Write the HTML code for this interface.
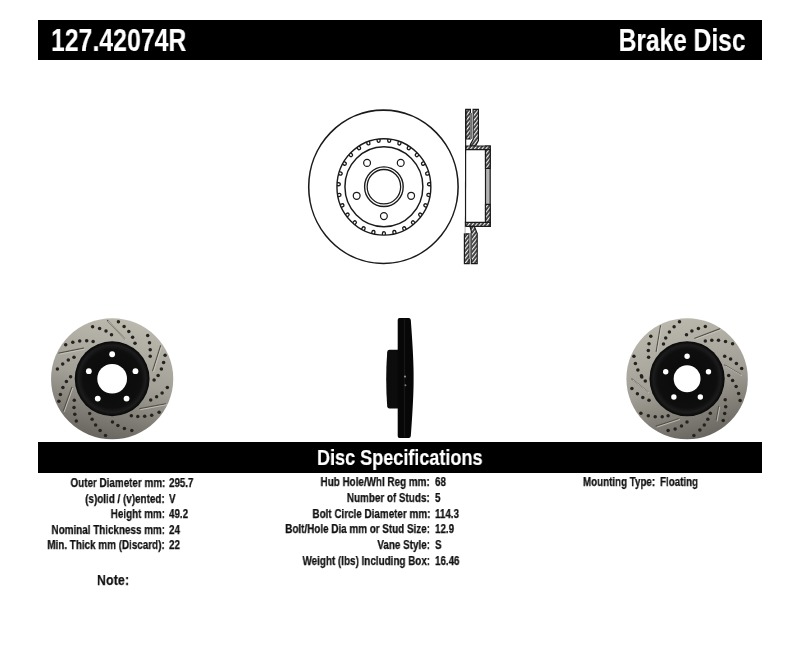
<!DOCTYPE html>
<html><head><meta charset="utf-8"><style>
html,body{margin:0;padding:0;background:#fff;width:800px;height:655px;overflow:hidden;}
body{position:relative;font-family:"Liberation Sans",sans-serif;font-weight:bold;color:#111;}
.bar{position:absolute;background:#000;}
.t{position:absolute;white-space:nowrap;line-height:1;will-change:transform;}
.w{color:#fff;}
.lab{text-align:right;transform-origin:100% 50%;}
.val{transform-origin:0 50%;}
.s{-webkit-text-stroke:0.25px #111;}
.sw{-webkit-text-stroke:0.2px #fff;}
svg{position:absolute;left:0;top:0;}
</style></head><body>
<div class="bar" style="left:38px;top:20px;width:724px;height:40px"></div>
<div class="bar" style="left:38px;top:442px;width:724px;height:31px"></div>
<div class="t w val sw" style="left:50.5px;top:24.0px;font-size:32px;transform:scaleX(0.776)">127.42074R</div>
<div class="t w lab sw" style="right:54.6px;top:24.0px;font-size:32px;transform:scaleX(0.766)">Brake Disc</div>
<div class="t w val sw" style="left:316.6px;top:447px;font-size:22.5px;transform:scaleX(0.8025)">Disc Specifications</div>
<svg width="800" height="655" viewBox="0 0 800 655">
<g transform="translate(383.9,0) scale(0.974,1) translate(-383.9,0)">
<ellipse cx="383.4" cy="186.79999999999998" rx="76.7" ry="76.7" fill="none" stroke="#1a1a1a" stroke-width="1.6"/>
<circle cx="383.9" cy="186.89999999999998" r="48.2" fill="none" stroke="#1a1a1a" stroke-width="1.45"/>
<circle cx="383.9" cy="186.7" r="40" fill="none" stroke="#1a1a1a" stroke-width="1.5"/>
<circle cx="383.9" cy="186.7" r="19.8" fill="none" stroke="#1a1a1a" stroke-width="1.4"/>
<circle cx="383.9" cy="186.7" r="17.2" fill="none" stroke="#1a1a1a" stroke-width="1.3"/>
<circle cx="383.90" cy="216.10" r="3.5" fill="none" stroke="#1a1a1a" stroke-width="1.25"/>
<circle cx="355.94" cy="195.79" r="3.5" fill="none" stroke="#1a1a1a" stroke-width="1.25"/>
<circle cx="366.62" cy="162.91" r="3.5" fill="none" stroke="#1a1a1a" stroke-width="1.25"/>
<circle cx="401.18" cy="162.91" r="3.5" fill="none" stroke="#1a1a1a" stroke-width="1.25"/>
<circle cx="411.86" cy="195.79" r="3.5" fill="none" stroke="#1a1a1a" stroke-width="1.25"/>
<path d="M382.40,235.10L382.40,233.20A1.5,1.5 0 0 1 385.40,233.20L385.40,235.10M371.32,233.45L371.76,231.61A1.5,1.5 0 0 1 374.68,232.30L374.24,234.15M360.93,229.30L361.78,227.60A1.5,1.5 0 0 1 364.46,228.95L363.61,230.65M351.77,222.86L352.99,221.40A1.5,1.5 0 0 1 355.29,223.33L354.07,224.79M344.34,214.48L345.87,213.35A1.5,1.5 0 0 1 347.66,215.75L346.13,216.89M339.05,204.61L340.79,203.86A1.5,1.5 0 0 1 341.98,206.62L340.24,207.37M336.17,193.79L338.04,193.46A1.5,1.5 0 0 1 338.56,196.42L336.69,196.75M335.87,182.60L337.77,182.71A1.5,1.5 0 0 1 337.59,185.71L335.69,185.59M338.16,171.64L339.98,172.18A1.5,1.5 0 0 1 339.11,175.06L337.29,174.51M342.91,161.50L344.55,162.45A1.5,1.5 0 0 1 343.05,165.05L341.41,164.10M349.87,152.73L351.25,154.04A1.5,1.5 0 0 1 349.19,156.22L347.81,154.91M358.67,145.81L359.71,147.39A1.5,1.5 0 0 1 357.20,149.04L356.16,147.45M368.82,141.09L369.47,142.88A1.5,1.5 0 0 1 366.65,143.91L366.01,142.12M379.79,138.85L380.01,140.74A1.5,1.5 0 0 1 377.04,141.09L376.81,139.20M390.99,139.20L390.76,141.09A1.5,1.5 0 0 1 387.79,140.74L388.01,138.85M401.79,142.12L401.15,143.91A1.5,1.5 0 0 1 398.33,142.88L398.98,141.09M411.64,147.45L410.60,149.04A1.5,1.5 0 0 1 408.09,147.39L409.13,145.81M419.99,154.91L418.61,156.22A1.5,1.5 0 0 1 416.55,154.04L417.93,152.73M426.39,164.10L424.75,165.05A1.5,1.5 0 0 1 423.25,162.45L424.89,161.50M430.51,174.51L428.69,175.06A1.5,1.5 0 0 1 427.82,172.18L429.64,171.64M432.11,185.59L430.21,185.71A1.5,1.5 0 0 1 430.03,182.71L431.93,182.60M431.11,196.75L429.24,196.42A1.5,1.5 0 0 1 429.76,193.46L431.63,193.79M427.56,207.37L425.82,206.62A1.5,1.5 0 0 1 427.01,203.86L428.75,204.61M421.67,216.89L420.14,215.75A1.5,1.5 0 0 1 421.93,213.35L423.46,214.48M413.73,224.79L412.51,223.33A1.5,1.5 0 0 1 414.81,221.40L416.03,222.86M404.19,230.65L403.34,228.95A1.5,1.5 0 0 1 406.02,227.60L406.87,229.30M393.56,234.15L393.12,232.30A1.5,1.5 0 0 1 396.04,231.61L396.48,233.45" fill="none" stroke="#1a1a1a" stroke-width="1.35"/>
</g>

<defs><pattern id="hatch" patternUnits="userSpaceOnUse" width="3" height="3" patternTransform="rotate(-52)">
<rect width="3" height="3" fill="#3a3a3a"/><rect y="0" width="3" height="1.15" fill="#f2f2f2"/></pattern></defs>
<g stroke="#1a1a1a" stroke-width="1.2" stroke-linejoin="miter">
<path d="M465.8,109.4 H470.4 V139 H465.8 Z" fill="url(#hatch)"/>
<path d="M473.1,109.4 H478.4 V140.7 L475.5,146 H470.4 V144.5 L473.1,139.5 Z" fill="url(#hatch)"/>
<path d="M485.5,146 H490.2 V226.3 H485.5 Z" fill="#b4b4b4"/>
<path d="M465.6,146 H490.2 V149.7 H465.6 Z" fill="url(#hatch)"/>
<path d="M485.5,149.7 H490.2 V168.4 H485.5 Z" fill="url(#hatch)"/>
<path d="M485.5,204.3 H490.2 V222.4 H485.5 Z" fill="url(#hatch)"/>
<path d="M465.4,222.4 H490.2 V226.3 H465.4 Z" fill="url(#hatch)"/>
<path d="M464.4,233.9 H469.2 V263.7 H464.4 Z" fill="url(#hatch)"/>
<path d="M470,226.3 L471.3,231 V263.7 H477.2 V233.5 L474.3,226.3 Z" fill="url(#hatch)"/>
<line x1="465.7" y1="109.4" x2="465.5" y2="222.4"/>
</g>
<line x1="465.2" y1="226.3" x2="465" y2="233.9" stroke="#999" stroke-width="0.8"/>
<rect x="470.4" y="113" width="2.7" height="26" fill="#bdbdbd"/><rect x="471.1" y="113" width="1.2" height="26" fill="#6a6a6a"/>
<rect x="469.2" y="233" width="2.1" height="26" fill="#bdbdbd"/><rect x="469.7" y="233" width="1.1" height="26" fill="#6a6a6a"/>

<defs><linearGradient id="gL" x1="0.62" y1="0.02" x2="0.4" y2="1"><stop offset="0" stop-color="#bbb8ae"/><stop offset="0.5" stop-color="#a3a097"/><stop offset="1" stop-color="#68655f"/></linearGradient><radialGradient id="hL" cx="0.5" cy="0.5" r="0.5"><stop offset="0" stop-color="#0a0a0a"/><stop offset="0.78" stop-color="#0e0e0e"/><stop offset="0.9" stop-color="#1c1c1c"/><stop offset="1" stop-color="#060606"/></radialGradient></defs>
<ellipse cx="112.15" cy="378.75" rx="61.1" ry="60.5" fill="url(#gL)"/>
<line x1="58.9" y1="353.2" x2="83.7" y2="348.2" stroke="#55524b" stroke-width="1.2" stroke-linecap="round"/>
<line x1="59.8" y1="354.09999999999997" x2="84.60000000000001" y2="349.09999999999997" stroke="#cfccc3" stroke-width="0.8" stroke-linecap="round"/>
<line x1="107.5" y1="320.5" x2="124.9" y2="338.8" stroke="#55524b" stroke-width="1.2" stroke-linecap="round"/>
<line x1="108.4" y1="321.4" x2="125.80000000000001" y2="339.7" stroke="#cfccc3" stroke-width="0.8" stroke-linecap="round"/>
<line x1="160.6" y1="345.8" x2="152.7" y2="370.6" stroke="#55524b" stroke-width="1.2" stroke-linecap="round"/>
<line x1="161.5" y1="346.7" x2="153.6" y2="371.5" stroke="#cfccc3" stroke-width="0.8" stroke-linecap="round"/>
<line x1="71.8" y1="387.4" x2="63.4" y2="410.7" stroke="#55524b" stroke-width="1.2" stroke-linecap="round"/>
<line x1="72.7" y1="388.29999999999995" x2="64.3" y2="411.59999999999997" stroke="#cfccc3" stroke-width="0.8" stroke-linecap="round"/>
<line x1="139.8" y1="408.7" x2="165.6" y2="403.8" stroke="#55524b" stroke-width="1.2" stroke-linecap="round"/>
<line x1="140.70000000000002" y1="409.59999999999997" x2="166.5" y2="404.7" stroke="#cfccc3" stroke-width="0.8" stroke-linecap="round"/>
<circle cx="92.6" cy="326.7" r="1.75" fill="#24221e"/>
<circle cx="99.6" cy="328.4" r="1.75" fill="#24221e"/>
<circle cx="106" cy="330.9" r="1.75" fill="#24221e"/>
<circle cx="111.5" cy="334.8" r="1.75" fill="#24221e"/>
<circle cx="65.7" cy="344.8" r="1.75" fill="#24221e"/>
<circle cx="72.8" cy="342.3" r="1.75" fill="#24221e"/>
<circle cx="79.7" cy="341" r="1.75" fill="#24221e"/>
<circle cx="86.7" cy="340.8" r="1.75" fill="#24221e"/>
<circle cx="93.1" cy="341.6" r="1.75" fill="#24221e"/>
<circle cx="74" cy="357.2" r="1.75" fill="#24221e"/>
<circle cx="68.3" cy="360.1" r="1.75" fill="#24221e"/>
<circle cx="62.7" cy="364.1" r="1.75" fill="#24221e"/>
<circle cx="57.4" cy="369.1" r="1.75" fill="#24221e"/>
<circle cx="118.4" cy="321.7" r="1.75" fill="#24221e"/>
<circle cx="124.1" cy="326.4" r="1.75" fill="#24221e"/>
<circle cx="128.8" cy="331.4" r="1.75" fill="#24221e"/>
<circle cx="132.6" cy="337.3" r="1.75" fill="#24221e"/>
<circle cx="135" cy="343.3" r="1.75" fill="#24221e"/>
<circle cx="147.7" cy="335.6" r="1.75" fill="#24221e"/>
<circle cx="149.5" cy="342.8" r="1.75" fill="#24221e"/>
<circle cx="150.2" cy="349.7" r="1.75" fill="#24221e"/>
<circle cx="150.2" cy="356.2" r="1.75" fill="#24221e"/>
<circle cx="165.1" cy="355.2" r="1.75" fill="#24221e"/>
<circle cx="163.6" cy="362.4" r="1.75" fill="#24221e"/>
<circle cx="161.4" cy="369.1" r="1.75" fill="#24221e"/>
<circle cx="158.1" cy="375.5" r="1.75" fill="#24221e"/>
<circle cx="154.1" cy="380" r="1.75" fill="#24221e"/>
<circle cx="70.6" cy="376.8" r="1.75" fill="#24221e"/>
<circle cx="66.4" cy="381.5" r="1.75" fill="#24221e"/>
<circle cx="62.9" cy="387.4" r="1.75" fill="#24221e"/>
<circle cx="60.4" cy="394.4" r="1.75" fill="#24221e"/>
<circle cx="58.9" cy="401.3" r="1.75" fill="#24221e"/>
<circle cx="74.3" cy="400.3" r="1.75" fill="#24221e"/>
<circle cx="74" cy="407.5" r="1.75" fill="#24221e"/>
<circle cx="74.8" cy="414.2" r="1.75" fill="#24221e"/>
<circle cx="76.3" cy="421.1" r="1.75" fill="#24221e"/>
<circle cx="89.7" cy="413.5" r="1.75" fill="#24221e"/>
<circle cx="92.1" cy="419.2" r="1.75" fill="#24221e"/>
<circle cx="95.6" cy="425.1" r="1.75" fill="#24221e"/>
<circle cx="100.1" cy="430.4" r="1.75" fill="#24221e"/>
<circle cx="105.5" cy="435.5" r="1.75" fill="#24221e"/>
<circle cx="167.3" cy="387.4" r="1.75" fill="#24221e"/>
<circle cx="162.1" cy="392.9" r="1.75" fill="#24221e"/>
<circle cx="156.6" cy="396.8" r="1.75" fill="#24221e"/>
<circle cx="150.7" cy="400.1" r="1.75" fill="#24221e"/>
<circle cx="159.1" cy="412.2" r="1.75" fill="#24221e"/>
<circle cx="151.7" cy="415.2" r="1.75" fill="#24221e"/>
<circle cx="144.7" cy="416.2" r="1.75" fill="#24221e"/>
<circle cx="137.8" cy="416.5" r="1.75" fill="#24221e"/>
<circle cx="131.3" cy="415.7" r="1.75" fill="#24221e"/>
<circle cx="112.5" cy="422.1" r="1.75" fill="#24221e"/>
<circle cx="117.9" cy="425.6" r="1.75" fill="#24221e"/>
<circle cx="124.4" cy="428.4" r="1.75" fill="#24221e"/>
<circle cx="131.8" cy="430.6" r="1.75" fill="#24221e"/>
<circle cx="112.15" cy="378.75" r="37.4" fill="url(#hL)"/>
<circle cx="112.15" cy="378.75" r="14.85" fill="#fff"/>
<circle cx="112.15" cy="354.25" r="2.9" fill="#fff"/>
<circle cx="135.45" cy="371.18" r="2.9" fill="#fff"/>
<circle cx="126.55" cy="398.57" r="2.9" fill="#fff"/>
<circle cx="97.75" cy="398.57" r="2.9" fill="#fff"/>
<circle cx="88.85" cy="371.18" r="2.9" fill="#fff"/>
<defs><linearGradient id="gR" x1="0.35" y1="0.02" x2="0.62" y2="1"><stop offset="0" stop-color="#bbb8ae"/><stop offset="0.5" stop-color="#a3a097"/><stop offset="1" stop-color="#68655f"/></linearGradient><radialGradient id="hR" cx="0.5" cy="0.5" r="0.5"><stop offset="0" stop-color="#0a0a0a"/><stop offset="0.78" stop-color="#0e0e0e"/><stop offset="0.9" stop-color="#1c1c1c"/><stop offset="1" stop-color="#060606"/></radialGradient></defs>
<ellipse cx="687.1" cy="378.75" rx="60.7" ry="60.5" fill="url(#gR)"/>
<line x1="660.5" y1="325.9" x2="656.2" y2="351.7" stroke="#55524b" stroke-width="1.2" stroke-linecap="round"/>
<line x1="661.4" y1="326.79999999999995" x2="657.1" y2="352.59999999999997" stroke="#cfccc3" stroke-width="0.8" stroke-linecap="round"/>
<line x1="694.9" y1="338.3" x2="719.7" y2="328.9" stroke="#55524b" stroke-width="1.2" stroke-linecap="round"/>
<line x1="695.8" y1="339.2" x2="720.6" y2="329.79999999999995" stroke="#cfccc3" stroke-width="0.8" stroke-linecap="round"/>
<line x1="724.7" y1="365.1" x2="740.6" y2="374.5" stroke="#55524b" stroke-width="1.2" stroke-linecap="round"/>
<line x1="725.6" y1="366.0" x2="741.5" y2="375.4" stroke="#cfccc3" stroke-width="0.8" stroke-linecap="round"/>
<line x1="656.2" y1="426.1" x2="678.6" y2="418.7" stroke="#55524b" stroke-width="1.2" stroke-linecap="round"/>
<line x1="657.1" y1="427.0" x2="679.5" y2="419.59999999999997" stroke="#cfccc3" stroke-width="0.8" stroke-linecap="round"/>
<line x1="631.9" y1="379" x2="647.8" y2="391.9" stroke="#55524b" stroke-width="1.2" stroke-linecap="round"/>
<line x1="632.8" y1="379.9" x2="648.6999999999999" y2="392.79999999999995" stroke="#cfccc3" stroke-width="0.8" stroke-linecap="round"/>
<line x1="718.7" y1="406.3" x2="716.2" y2="420.1" stroke="#55524b" stroke-width="1.2" stroke-linecap="round"/>
<line x1="719.6" y1="407.2" x2="717.1" y2="421.0" stroke="#cfccc3" stroke-width="0.8" stroke-linecap="round"/>
<circle cx="679.5" cy="321.7" r="1.75" fill="#24221e"/>
<circle cx="674.1" cy="326.7" r="1.75" fill="#24221e"/>
<circle cx="669.4" cy="332.1" r="1.75" fill="#24221e"/>
<circle cx="665.7" cy="338" r="1.75" fill="#24221e"/>
<circle cx="663.5" cy="344" r="1.75" fill="#24221e"/>
<circle cx="650.8" cy="336.3" r="1.75" fill="#24221e"/>
<circle cx="649" cy="343.8" r="1.75" fill="#24221e"/>
<circle cx="648.3" cy="350.5" r="1.75" fill="#24221e"/>
<circle cx="648.6" cy="357.2" r="1.75" fill="#24221e"/>
<circle cx="633.9" cy="356.2" r="1.75" fill="#24221e"/>
<circle cx="635.4" cy="363.6" r="1.75" fill="#24221e"/>
<circle cx="637.9" cy="370.1" r="1.75" fill="#24221e"/>
<circle cx="641.4" cy="375.7" r="1.75" fill="#24221e"/>
<circle cx="686.5" cy="334.8" r="1.75" fill="#24221e"/>
<circle cx="705.3" cy="326.4" r="1.75" fill="#24221e"/>
<circle cx="698.4" cy="328.4" r="1.75" fill="#24221e"/>
<circle cx="691.9" cy="330.9" r="1.75" fill="#24221e"/>
<circle cx="705.3" cy="341" r="1.75" fill="#24221e"/>
<circle cx="711.8" cy="340.3" r="1.75" fill="#24221e"/>
<circle cx="718.5" cy="340.3" r="1.75" fill="#24221e"/>
<circle cx="725.5" cy="341.6" r="1.75" fill="#24221e"/>
<circle cx="732.6" cy="343.8" r="1.75" fill="#24221e"/>
<circle cx="724.7" cy="356.2" r="1.75" fill="#24221e"/>
<circle cx="730.6" cy="359.1" r="1.75" fill="#24221e"/>
<circle cx="736.4" cy="363.6" r="1.75" fill="#24221e"/>
<circle cx="741.7" cy="368.6" r="1.75" fill="#24221e"/>
<circle cx="728.7" cy="375.5" r="1.75" fill="#24221e"/>
<circle cx="641.8" cy="377" r="1.75" fill="#24221e"/>
<circle cx="645.3" cy="381" r="1.75" fill="#24221e"/>
<circle cx="631.9" cy="388.4" r="1.75" fill="#24221e"/>
<circle cx="637.4" cy="393.7" r="1.75" fill="#24221e"/>
<circle cx="642.8" cy="397.6" r="1.75" fill="#24221e"/>
<circle cx="649" cy="400.3" r="1.75" fill="#24221e"/>
<circle cx="640.9" cy="413.2" r="1.75" fill="#24221e"/>
<circle cx="648.3" cy="415.7" r="1.75" fill="#24221e"/>
<circle cx="655.2" cy="416.7" r="1.75" fill="#24221e"/>
<circle cx="662.2" cy="416.7" r="1.75" fill="#24221e"/>
<circle cx="668.1" cy="415.7" r="1.75" fill="#24221e"/>
<circle cx="668.1" cy="430.6" r="1.75" fill="#24221e"/>
<circle cx="675.1" cy="429.1" r="1.75" fill="#24221e"/>
<circle cx="681.5" cy="426.1" r="1.75" fill="#24221e"/>
<circle cx="687" cy="422.1" r="1.75" fill="#24221e"/>
<circle cx="732.6" cy="380.5" r="1.75" fill="#24221e"/>
<circle cx="736.1" cy="386.4" r="1.75" fill="#24221e"/>
<circle cx="738.6" cy="393.4" r="1.75" fill="#24221e"/>
<circle cx="740.1" cy="400.6" r="1.75" fill="#24221e"/>
<circle cx="725.2" cy="399.8" r="1.75" fill="#24221e"/>
<circle cx="725.7" cy="406.8" r="1.75" fill="#24221e"/>
<circle cx="724.7" cy="413.5" r="1.75" fill="#24221e"/>
<circle cx="723.2" cy="420.6" r="1.75" fill="#24221e"/>
<circle cx="710.3" cy="413.2" r="1.75" fill="#24221e"/>
<circle cx="707.8" cy="419.2" r="1.75" fill="#24221e"/>
<circle cx="704.3" cy="425.1" r="1.75" fill="#24221e"/>
<circle cx="699.9" cy="430.1" r="1.75" fill="#24221e"/>
<circle cx="693.9" cy="435.5" r="1.75" fill="#24221e"/>
<circle cx="687.1" cy="378.75" r="37.6" fill="url(#hR)"/>
<circle cx="687.1" cy="378.75" r="13.45" fill="#fff"/>
<circle cx="687.10" cy="356.25" r="2.7" fill="#fff"/>
<circle cx="708.50" cy="371.80" r="2.7" fill="#fff"/>
<circle cx="700.33" cy="396.95" r="2.7" fill="#fff"/>
<circle cx="673.87" cy="396.95" r="2.7" fill="#fff"/>
<circle cx="665.70" cy="371.80" r="2.7" fill="#fff"/>

<path d="M387.2,352 Q387.4,349.8 389.5,349.8 H398 V408.5 H389.5 Q387.4,408.5 387.2,406.3 Q385.2,379 387.2,352 Z" fill="#0c0c0c"/>
<path d="M397.7,320 Q397.7,318.1 399.5,318.1 H408.8 Q410.5,318.1 410.8,320 Q413.8,360 413.6,378 Q413.8,396 410.8,436 Q410.5,438 408.8,438 H399.5 Q397.7,438 397.7,436 Z" fill="#070707"/>
<rect x="403.8" y="319" width="1.4" height="118" fill="#161616"/>
<circle cx="405" cy="376.6" r="1.1" fill="#8a8a8a"/><circle cx="405.4" cy="385.2" r="1.0" fill="#7a7a7a"/>

</svg>
<div class="t lab s" style="right:634.90px;top:476.60px;font-size:12px;transform:scaleX(0.8225)">Outer Diameter mm:</div>
<div class="t val s" style="left:169.4px;top:476.60px;font-size:12px;transform:scaleX(0.815)">295.7</div>
<div class="t lab s" style="right:634.90px;top:492.60px;font-size:12px;transform:scaleX(0.8225)">(s)olid / (v)ented:</div>
<div class="t val s" style="left:169.4px;top:492.60px;font-size:12px;transform:scaleX(0.815)">V</div>
<div class="t lab s" style="right:634.90px;top:508.10px;font-size:12px;transform:scaleX(0.8225)">Height mm:</div>
<div class="t val s" style="left:169.4px;top:508.10px;font-size:12px;transform:scaleX(0.815)">49.2</div>
<div class="t lab s" style="right:634.90px;top:523.90px;font-size:12px;transform:scaleX(0.8225)">Nominal Thickness mm:</div>
<div class="t val s" style="left:169.4px;top:523.90px;font-size:12px;transform:scaleX(0.815)">24</div>
<div class="t lab s" style="right:634.90px;top:539.15px;font-size:12px;transform:scaleX(0.8225)">Min. Thick mm (Discard):</div>
<div class="t val s" style="left:169.4px;top:539.15px;font-size:12px;transform:scaleX(0.815)">22</div>
<div class="t lab s" style="right:369.90px;top:475.90px;font-size:12px;transform:scaleX(0.8225)">Hub Hole/Whl Reg mm:</div>
<div class="t val s" style="left:435px;top:475.90px;font-size:12px;transform:scaleX(0.815)">68</div>
<div class="t lab s" style="right:369.90px;top:491.65px;font-size:12px;transform:scaleX(0.8225)">Number of Studs:</div>
<div class="t val s" style="left:435px;top:491.65px;font-size:12px;transform:scaleX(0.815)">5</div>
<div class="t lab s" style="right:369.90px;top:507.90px;font-size:12px;transform:scaleX(0.8225)">Bolt Circle Diameter mm:</div>
<div class="t val s" style="left:435px;top:507.90px;font-size:12px;transform:scaleX(0.815)">114.3</div>
<div class="t lab s" style="right:369.90px;top:523.40px;font-size:12px;transform:scaleX(0.8225)">Bolt/Hole Dia mm or Stud Size:</div>
<div class="t val s" style="left:435px;top:523.40px;font-size:12px;transform:scaleX(0.815)">12.9</div>
<div class="t lab s" style="right:369.90px;top:539.15px;font-size:12px;transform:scaleX(0.8225)">Vane Style:</div>
<div class="t val s" style="left:435px;top:539.15px;font-size:12px;transform:scaleX(0.815)">S</div>
<div class="t lab s" style="right:369.90px;top:554.90px;font-size:12px;transform:scaleX(0.8225)">Weight (lbs) Including Box:</div>
<div class="t val s" style="left:435px;top:554.90px;font-size:12px;transform:scaleX(0.815)">16.46</div>
<div class="t val s" style="left:582.5px;top:475.90px;font-size:12px;transform:scaleX(0.815)">Mounting Type:</div><div class="t val s" style="left:660px;top:475.90px;font-size:12px;transform:scaleX(0.815)">Floating</div>
<div class="t val s" style="left:96.6px;top:571.9px;font-size:15px;letter-spacing:0.2px;transform:scaleX(0.82)">Note:</div>
</body></html>
